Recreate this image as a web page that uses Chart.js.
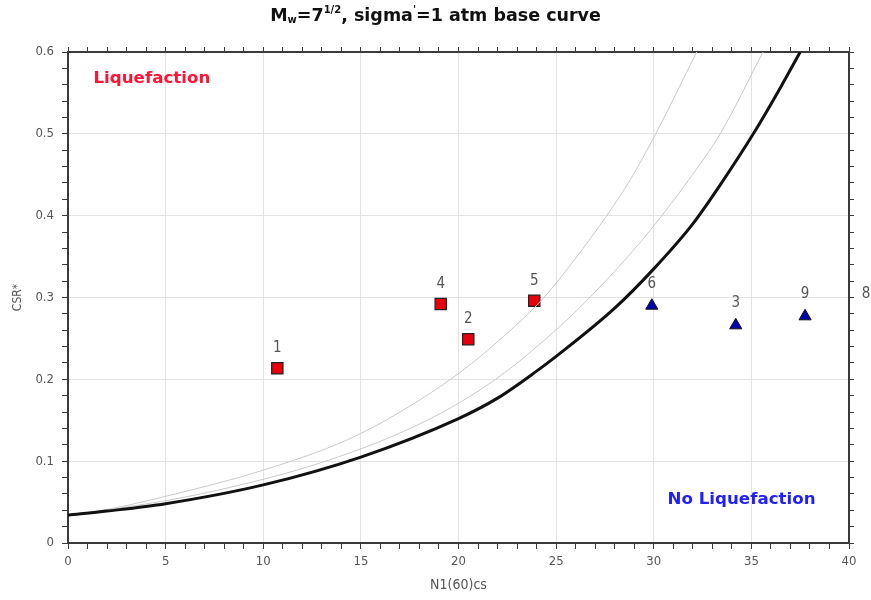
<!DOCTYPE html>
<html>
<head>
<meta charset="utf-8">
<script src="https://cdn.jsdelivr.net/npm/chart.js@4.4.1/dist/chart.umd.min.js"></script>
<style>
  html, body { margin: 0; padding: 0; background: #fff; }
  #wrap { width: 871px; height: 600px; }
</style>
</head>
<body>
<div id="wrap"><canvas id="csrChart" width="871" height="600"></canvas></div>
<script>
// ================= DATA =================
// base curve (thick black)
const baseN   = [0, 2, 5, 10, 15, 20, 22, 24, 25, 28, 30, 32, 33.5, 35.1, 36.5, 37.5];
const baseCSR = [0.034, 0.039, 0.048, 0.071, 0.105, 0.152, 0.177, 0.21, 0.228, 0.287, 0.335, 0.39, 0.441, 0.5, 0.557, 0.6];

// thin grey curves
const upperN   = [0, 2, 5, 10, 14.3, 17, 20, 22, 24.3, 26, 27.5, 28.8, 30.1, 32.2];
const upperCSR = [0.034, 0.041, 0.057, 0.089, 0.126, 0.16, 0.207, 0.246, 0.298, 0.348, 0.397, 0.444, 0.5, 0.6];
const midN     = [0, 3, 6.8, 13.2, 18.4, 21.9, 24.5, 26.6, 29.4, 31.8, 33.4, 35.6];
const midCSR   = [0.034, 0.044, 0.06, 0.1, 0.15, 0.2, 0.25, 0.297, 0.37, 0.444, 0.5, 0.6];

// field points
const liqIds = ['1', '2', '4', '5'];
const liqN   = [10.72, 20.5, 19.09, 23.88];
const liqCSR = [0.2135, 0.249, 0.292, 0.296];
const nonIds = ['3', '6', '8', '9'];
const nonN   = [34.2, 29.9, 40.87, 37.75];
const nonCSR = [0.266, 0.29, 0.277, 0.277];

// axis tick labels
const xLabels = [0, 5, 10, 15, 20, 25, 30, 35, 40];
const yLabels = [0, 0.1, 0.2, 0.3, 0.4, 0.5, 0.6];

const toXY = (xs, ys) => xs.map((x, i) => ({ x: x, y: ys[i] }));
const isYMajor = v => yLabels.some(t => Math.abs(t - v) < 1e-9);
const isXMajor = v => xLabels.includes(v);

const tickFont = { family: "'DejaVu Sans Condensed', 'DejaVu Sans', sans-serif", size: 13 };
const axisDark = '#3a3a3a';
const gridLight = '#e3e3e3';

// ================= TEXT PLUGIN =================
const textPlugin = {
  id: 'csrText',
  afterDatasetsDraw(chart) {
    const ctx = chart.ctx;
    const xs = chart.scales.x, ys = chart.scales.y;
    ctx.save();

    // point numbers
    ctx.font = "15px 'DejaVu Sans Condensed', 'DejaVu Sans', sans-serif";
    ctx.fillStyle = '#555';
    ctx.textAlign = 'center';
    ctx.textBaseline = 'middle';
    [[3, liqIds, 20], [4, nonIds, 22]].forEach(([dsIdx, ids, off]) => {
      chart.getDatasetMeta(dsIdx).data.forEach((el, i) => {
        ctx.fillText(ids[i], el.x, el.y - off);
      });
    });

    // zone labels
    ctx.font = "bold 16.7px 'DejaVu Sans', Verdana, sans-serif";
    ctx.textAlign = 'left';
    ctx.fillStyle = '#ff1433';
    ctx.fillText('Liquefaction', xs.getPixelForValue(1.3), ys.getPixelForValue(0.568));
    ctx.fillStyle = '#1f1fff';
    ctx.fillText('No Liquefaction', xs.getPixelForValue(30.7), ys.getPixelForValue(0.0525));

    // title with sub/superscript
    const big = "bold 17.5px 'DejaVu Sans', Verdana, sans-serif";
    const small = "bold 10px 'DejaVu Sans', Verdana, sans-serif";
    const parts = [
      ['M', big, 0], ['w', small, 4], ['=7', big, 0], ['1/2', small, -6],
      [", sigma", big, 0], ["'", small, -6], ['=1 atm base curve', big, 0]
    ];
    let total = 0;
    parts.forEach(p => { ctx.font = p[1]; total += ctx.measureText(p[0]).width; });
    let x = chart.width / 2 - total / 2;
    const y = 16;
    ctx.fillStyle = '#111';
    parts.forEach(p => {
      ctx.font = p[1];
      ctx.fillText(p[0], x, y + p[2]);
      x += ctx.measureText(p[0]).width;
    });
    ctx.restore();
  }
};

// ================= CHART =================
new Chart(document.getElementById('csrChart'), {
  type: 'scatter',
  data: {
    datasets: [
      {
        label: 'base',
        data: toXY(baseN, baseCSR),
        showLine: true,
        borderColor: '#111',
        borderWidth: 3,
        pointRadius: 0,
        cubicInterpolationMode: 'monotone',
        clip: 0
      },
      {
        label: 'upper',
        data: toXY(upperN, upperCSR),
        showLine: true,
        borderColor: '#c9c9c9',
        borderWidth: 1,
        pointRadius: 0,
        cubicInterpolationMode: 'monotone',
        clip: 0
      },
      {
        label: 'mid',
        data: toXY(midN, midCSR),
        showLine: true,
        borderColor: '#c9c9c9',
        borderWidth: 1,
        pointRadius: 0,
        cubicInterpolationMode: 'monotone',
        clip: 0
      },
      {
        label: 'Liquefaction',
        data: toXY(liqN, liqCSR),
        pointStyle: 'rect',
        pointRadius: 8,
        backgroundColor: '#e8000b',
        borderColor: '#222',
        borderWidth: 1.2,
        clip: 0
      },
      {
        label: 'No Liquefaction',
        data: toXY(nonN, nonCSR),
        pointStyle: 'triangle',
        pointRadius: 7,
        backgroundColor: '#0000b0',
        borderColor: '#111',
        borderWidth: 1,
        clip: 0
      }
    ]
  },
  options: {
    responsive: false,
    animation: false,
    layout: { padding: 0 },
    plugins: {
      legend: { display: false },
      title: { display: false },
      tooltip: { enabled: false }
    },
    scales: {
      x: {
        type: 'linear',
        position: 'bottom',
        min: 0,
        max: 40,
        afterFit: s => { s.height = 57; },
        ticks: {
          stepSize: 1,
          autoSkip: false,
          maxRotation: 0,
          padding: 5,
          color: '#555',
          font: tickFont,
          callback: v => (isXMajor(v) ? String(v) : '')
        },
        grid: {
          color: c => (c.tick && isXMajor(c.tick.value) ? gridLight : 'rgba(0,0,0,0)'),
          tickColor: axisDark,
          tickLength: 6
        },
        border: { color: axisDark, width: 2 },
        title: {
          display: true,
          text: 'N1(60)cs',
          color: '#555',
          font: { family: tickFont.family, size: 14 },
          padding: { top: 0, bottom: 6 }
        }
      },
      x2: {
        type: 'linear',
        position: 'top',
        min: 0,
        max: 40,
        afterFit: s => { s.height = 52; },
        ticks: { stepSize: 1, autoSkip: false, display: false },
        grid: { drawOnChartArea: false, color: axisDark, tickLength: 5 },
        border: { color: axisDark, width: 2 }
      },
      y: {
        type: 'linear',
        position: 'left',
        min: 0,
        max: 0.6,
        afterFit: s => { s.width = 68; },
        ticks: {
          stepSize: 0.02,
          autoSkip: false,
          padding: 8,
          color: '#555',
          font: tickFont,
          callback: v => (isYMajor(v) ? String(Math.round(v * 10) / 10) : '')
        },
        grid: {
          color: c => (c.tick && isYMajor(c.tick.value) ? gridLight : 'rgba(0,0,0,0)'),
          tickColor: axisDark,
          tickLength: 6
        },
        border: { color: axisDark, width: 2 },
        title: {
          display: true,
          text: 'CSR*',
          color: '#555',
          font: { family: tickFont.family, size: 12 },
          padding: { top: 11, bottom: 0 }
        }
      },
      y2: {
        type: 'linear',
        position: 'right',
        min: 0,
        max: 0.6,
        afterFit: s => { s.width = 22; },
        ticks: { stepSize: 0.02, autoSkip: false, display: false },
        grid: { drawOnChartArea: false, color: axisDark, tickLength: 5 },
        border: { color: axisDark, width: 2 }
      }
    }
  },
  plugins: [textPlugin]
});
</script>
</body>
</html>
